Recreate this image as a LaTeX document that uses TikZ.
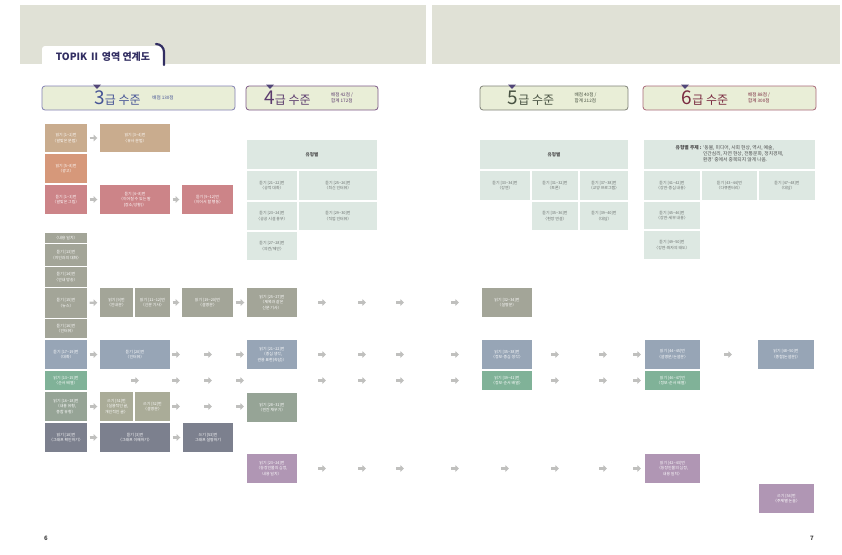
\documentclass[tikz,border=0pt]{standalone}
\usepackage{fontspec}
\setmainfont{Noto Sans CJK KR}
\usetikzlibrary{arrows.meta}
\definecolor{BandGray}{RGB}{224,225,214}
\definecolor{TabNavy}{RGB}{50,46,98}
\definecolor{HeadFill}{RGB}{233,238,215}
\definecolor{TriPurple}{RGB}{82,70,120}
\definecolor{L3line}{RGB}{130,128,178}
\definecolor{L3text}{RGB}{70,84,150}
\definecolor{L4line}{RGB}{124,88,134}
\definecolor{L4text}{RGB}{92,60,110}
\definecolor{L5line}{RGB}{128,130,120}
\definecolor{L5text}{RGB}{72,82,66}
\definecolor{L6line}{RGB}{168,104,120}
\definecolor{L6text}{RGB}{122,42,64}
\definecolor{cTan}{RGB}{201,172,142}
\definecolor{cOrange}{RGB}{214,152,122}
\definecolor{cPink}{RGB}{204,132,136}
\definecolor{cGray}{RGB}{163,165,152}
\definecolor{cBlue}{RGB}{151,165,182}
\definecolor{cGreen}{RGB}{128,178,152}
\definecolor{cSage}{RGB}{150,164,150}
\definecolor{cSageLt}{RGB}{170,172,152}
\definecolor{cSlate}{RGB}{124,128,142}
\definecolor{cPurple}{RGB}{176,150,180}
\definecolor{cTable}{RGB}{221,232,226}
\definecolor{TableText}{RGB}{105,110,108}
\definecolor{MarkGray}{RGB}{192,192,190}
\newcommand\boxfont{\fontsize{3.9}{5.6}\selectfont}
\newcommand\rng{\textasciitilde}
\tikzset{
  bx/.style={fill=#1, text=white, inner sep=0pt, align=center, font=\boxfont},
  tb/.style={fill=cTable, text=TableText, inner sep=0pt, align=center, font=\boxfont},
  sz/.style 2 args={minimum width=#1pt, minimum height=#2pt},
  lvl/.style={draw=#1, fill=HeadFill, rounded corners=3pt, line width=0.8pt, inner sep=0pt},
  lvtxt/.style={text=#1, inner sep=0pt, font=\fontsize{12}{12}\selectfont},
  pts/.style={text=#1, inner sep=0pt, align=left, font=\fontsize{4.6}{5.6}\selectfont},
  mkarr/.style={draw=MarkGray, line width=2.4pt, -{Triangle[length=3.6pt, width=6.4pt]}},
  flow/.style={mkarr, shorten <=2.5pt, shorten >=2.5pt},
  mk/.pic={\draw[mkarr] (-4,0) -- (4,0);},
}

\begin{document}
\begin{tikzpicture}[x=1pt, y=-1pt]
  \useasboundingbox (0,0) rectangle (842,554);
  \fill[BandGray] (20,5) rectangle (426,64);
  \fill[BandGray] (432,5) rectangle (840,64);
  \fill[white, rounded corners=3pt] (42,67) -- (42,46) -- (163,46) -- (163,67);
  \draw[TabNavy, line width=2.2pt, line cap=round] (156,44) to[out=0, in=90] (164,52) -- (164,65);
  \node[font=\fontsize{10}{10}\selectfont\bfseries, text=TabNavy] (title) at (103,57) {TOPIK Ⅱ 영역 연계도};

  % level headers
  \node[lvl=L3line, sz={193}{24}] (lv3) at (138.5,98) {};
  \node[lvl=L4line, sz={132}{24}] (lv4) at (312,98) {};
  \node[lvl=L5line, sz={148}{24}] (lv5) at (554,98) {};
  \node[lvl=L6line, sz={173}{24}] (lv6) at (729.5,98) {};
  \foreach \x in {97,270,512,685}
    \fill[TriPurple] (\x-4,84.6) -- (\x+4,84.6) -- (\x,89) -- cycle;
  \node[lvtxt=L3text] (lv3t) at (117.5,98) {{\fontsize{19}{19}\selectfont 3}급 수준};
  \node[pts=L3text] (lv3p) at (163,98) {배점 130점};
  \node[lvtxt=L4text] (lv4t) at (287.5,98) {{\fontsize{19}{19}\selectfont 4}급 수준};
  \node[pts=L4text] (lv4p) at (342,98) {배점 42점 /\\합계 172점};
  \node[lvtxt=L5text] (lv5t) at (531,98) {{\fontsize{19}{19}\selectfont 5}급 수준};
  \node[pts=L5text] (lv5p) at (585.5,98) {배점 40점 /\\합계 212점};
  \node[lvtxt=L6text] (lv6t) at (705,98) {{\fontsize{19}{19}\selectfont 6}급 수준};
  \node[pts=L6text] (lv6p) at (759,98) {배점 88점 /\\합계 300점};

  % 3급
  \node[bx=cTan, sz={42}{28}] (r1a) at (66,138) {읽기 [1\rng2]번\\〈알맞은 문법〉};
  \node[bx=cTan, sz={70}{28}] (r1b) at (135,138) {읽기 [3\rng4]번\\〈유사 문법〉};
  \node[bx=cOrange, sz={42}{29}] (r2a) at (66,168.5) {읽기 [5\rng8]번\\〈광고〉};
  \node[bx=cPink, sz={42}{29}] (r3a) at (66,199.5) {듣기 [1\rng3]번\\〈알맞은 그림〉};
  \node[bx=cPink, sz={70}{29}] (r3b) at (135,199.5) {듣기 [4\rng8]번\\〈이어질 수 있는 말\\(장소/상황)〉};
  \node[bx=cPink, sz={51}{29}] (r3c) at (207.5,199.5) {듣기 [9\rng12]번\\〈이어서 할 행동〉};

  \node[bx=cGray, sz={42}{10}] (g0) at (66,238) {〈내용 일치〉};
  \node[bx=cGray, sz={42}{22}] (g1) at (66,255) {듣기 [13]번\\〈지인과의 대화〉};
  \node[bx=cGray, sz={42}{20}] (g2) at (66,277) {듣기 [14]번\\〈안내 방송〉};
  \node[bx=cGray, sz={42}{30}] (g3) at (66,303) {듣기 [15]번\\〈뉴스〉};
  \node[bx=cGray, sz={42}{19}] (g4) at (66,328.5) {듣기 [16]번\\〈인터뷰〉};
  \node[bx=cGray, sz={33}{29}] (r4b1) at (116.5,302.5) {읽기 [9]번\\〈안내문〉};
  \node[bx=cGray, sz={35}{29}] (r4b2) at (152.5,302.5) {읽기 [11\rng12]번\\〈신문 기사〉};
  \node[bx=cGray, sz={51}{29}] (r4c) at (207.5,302.5) {읽기 [19\rng20]번\\〈설명문〉};
  \node[bx=cGray, sz={50}{29}] (r4d) at (272,302.5) {읽기 [25\rng27]번\\〈제목과 같은\\신문 기사〉};
  \node[bx=cGray, sz={50}{29}] (r4e) at (507,302.5) {읽기 [32\rng34]번\\〈설명문〉};

  \node[bx=cBlue, sz={42}{29}] (r5a) at (66,354.5) {듣기 [17\rng19]번\\〈대화〉};
  \node[bx=cBlue, sz={70}{29}] (r5b) at (135,354.5) {듣기 [20]번\\〈인터뷰〉};
  \node[bx=cBlue, sz={50}{29}] (r5d) at (272,354.5) {읽기 [21\rng22]번\\〈중심 생각,\\관용 표현(속담)〉};
  \node[bx=cBlue, sz={50}{29}] (r5e) at (507,354.5) {읽기 [35\rng38]번\\〈정보-중심 생각〉};
  \node[bx=cBlue, sz={55}{29}] (r5f) at (672.5,354.5) {읽기 [44\rng45]번\\〈설명문/논설문〉};
  \node[bx=cBlue, sz={56}{29}] (r5g) at (786,354.5) {읽기 [48\rng50]번\\〈종합(논설문)〉};

  \node[bx=cGreen, sz={42}{19}] (r6a) at (66,380.5) {읽기 [13\rng15]번\\〈순서 배열〉};
  \node[bx=cGreen, sz={50}{19}] (r6e) at (507,380.5) {읽기 [39\rng41]번\\〈정보-순서 배열〉};
  \node[bx=cGreen, sz={55}{19}] (r6f) at (672.5,380.5) {읽기 [46\rng47]번\\〈정보-순서 배열〉};

  \node[bx=cSage, sz={42}{29}] (r7a) at (66,406.5) {읽기 [16\rng18]번\\〈내용 유형,\\종합 유형〉};
  \node[bx=cSageLt, sz={33}{29}] (r7b1) at (116.5,406.5) {쓰기 [51]번\\〈실용적인 글,\\개인적인 글〉};
  \node[bx=cSageLt, sz={35}{29}] (r7b2) at (152.5,406.5) {쓰기 [52]번\\〈설명문〉};
  \node[bx=cSage, sz={50}{29}] (r7d) at (272,407.5) {읽기 [28\rng31]번\\〈빈칸 채우기〉};

  \node[bx=cSlate, sz={42}{29}] (r8a) at (66,437.5) {읽기 [10]번\\〈그래프 확인하기〉};
  \node[bx=cSlate, sz={70}{29}] (r8b) at (135,437.5) {듣기 [3]번\\〈그래프 이해하기〉};
  \node[bx=cSlate, sz={50}{29}] (r8c) at (208,437.5) {쓰기 [53]번\\그래프 설명하기};

  \node[bx=cPurple, sz={50}{29}] (r9d) at (272,468.5) {읽기 [23\rng24]번\\〈등장인물의 심정,\\내용 일치〉};
  \node[bx=cPurple, sz={55}{29}] (r9f) at (672.5,468.5) {읽기 [42\rng43]번\\〈등장인물의 심정,\\내용 일치〉};
  \node[bx=cPurple, sz={55}{29}] (r10g) at (786.5,498.5) {쓰기 [54]번\\〈주제별 논술〉};

  % tables
  \node[tb, sz={130}{29}, font=\fontsize{4.6}{5.6}\selectfont\bfseries, text=black!70] (t4h) at (312,154.5) {유형별};
  \node[tb, sz={50}{29}] (t4a) at (272,185.5) {듣기 [21\rng22]번\\〈공적 대화〉};
  \node[tb, sz={78}{29}] (t4b) at (338,185.5) {듣기 [25\rng26]번\\〈최신 인터뷰〉};
  \node[tb, sz={50}{28}] (t4c) at (272,216) {듣기 [23\rng24]번\\〈공공 시설 용무〉};
  \node[tb, sz={78}{28}] (t4d) at (338,216) {듣기 [29\rng30]번\\〈직업 인터뷰〉};
  \node[tb, sz={50}{28}] (t4e) at (272,246) {듣기 [27\rng28]번\\〈의견/제안〉};

  \node[tb, sz={148}{29}, font=\fontsize{4.6}{5.6}\selectfont\bfseries, text=black!70] (t5h) at (554,154.5) {유형별};
  \node[tb, sz={50}{29}] (t5a) at (505,185.5) {듣기 [33\rng34]번\\〈강연〉};
  \node[tb, sz={46}{29}] (t5b) at (555,185.5) {듣기 [31\rng32]번\\〈토론〉};
  \node[tb, sz={48}{29}] (t5c) at (604,185.5) {듣기 [37\rng38]번\\〈교양 프로그램〉};
  \node[tb, sz={46}{28}] (t5d) at (555,216) {듣기 [35\rng36]번\\〈현장 연설〉};
  \node[tb, sz={48}{28}] (t5e) at (604,216) {듣기 [39\rng40]번\\〈대담〉};

  \node[tb, sz={171}{29}, text=black!70, font=\fontsize{4.8}{5.8}\selectfont] (t6h) at (729.5,154.5)
    {\begin{tabular}{@{}l@{ }l@{}}\textbf{유형별 주제 :} & ‘동물, 미디어, 사회 현상, 역사, 예술,\\ & 인간심리, 자연 현상, 전통문화, 정치경제,\\ & 환경’ 중에서 중복되지 않게 나옴.\end{tabular}};
  \node[tb, sz={56}{29}] (t6a) at (672,185.5) {듣기 [41\rng42]번\\〈강연-중심 내용〉};
  \node[tb, sz={55}{29}] (t6b) at (729.5,185.5) {듣기 [43\rng44]번\\〈다큐멘터리〉};
  \node[tb, sz={56}{29}] (t6c) at (787,185.5) {듣기 [47\rng48]번\\〈대담〉};
  \node[tb, sz={56}{27}] (t6d) at (672,215.5) {듣기 [45\rng46]번\\〈강연-세부 내용〉};
  \node[tb, sz={56}{28}] (t6e) at (672,245) {듣기 [49\rng50]번\\〈강연-화자의 태도〉};

  % arrows
  \draw[flow] (r1a) -- (r1b);
  \draw[flow] (r3a) -- (r3b);
  \draw[flow] (r3b) -- (r3c);
  \draw[flow] (g3) -- (r4b1);
  \draw[flow] (r4b2) -- (r4c);
  \draw[flow] (r4c) -- (r4d);
  \draw[flow] (r5a) -- (r5b);
  \draw[flow] (r7a) -- (r7b1);
  \draw[flow] (r8a) -- (r8b);
  \draw[flow] (r8b) -- (r8c);
  \foreach \x in {322,362,400,455} \pic at (\x,302.5) {mk};
  \foreach \x in {176,208,240,322,362,400,455,555,603,637,728} \pic at (\x,354.5) {mk};
  \foreach \x in {135,176,208,240,322,362,400,455,555,603,637} \pic at (\x,380.5) {mk};
  \foreach \x in {176,208,240} \pic at (\x,406.5) {mk};
  \foreach \x in {322,362,400,455,505,555,603,637} \pic at (\x,468.5) {mk};

  \node[font=\fontsize{6}{6}\selectfont\bfseries, text=black!75] (pg6) at (46,538) {6};
  \node[font=\fontsize{6}{6}\selectfont\bfseries, text=black!75] (pg7) at (812,538) {7};
\end{tikzpicture}
\end{document}
